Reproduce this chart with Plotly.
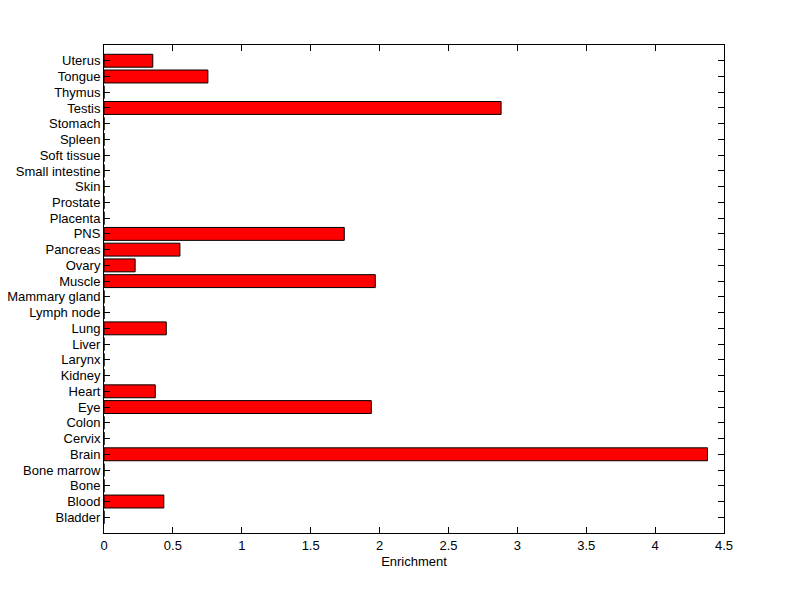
import plotly.graph_objects as go

categories = ["Bladder", "Blood", "Bone", "Bone marrow", "Brain", "Cervix", "Colon", "Eye",
              "Heart", "Kidney", "Larynx", "Liver", "Lung", "Lymph node", "Mammary gland",
              "Muscle", "Ovary", "Pancreas", "PNS", "Placenta", "Prostate", "Skin",
              "Small intestine", "Soft tissue", "Spleen", "Stomach", "Testis", "Thymus",
              "Tongue", "Uterus"]
enrichment = [0, 0.434, 0, 0, 4.38, 0, 0, 1.94,
              0.372, 0, 0, 0, 0.452, 0, 0,
              1.969, 0.226, 0.551, 1.744, 0, 0, 0,
              0, 0, 0, 0, 2.882, 0,
              0.754, 0.354]
x_ticks = [0, 0.5, 1, 1.5, 2, 2.5, 3, 3.5, 4, 4.5]
x_tick_labels = ["0", "0.5", "1", "1.5", "2", "2.5", "3", "3.5", "4", "4.5"]

idx = list(range(len(categories)))

fig = go.Figure(go.Bar(
    x=enrichment, y=idx, orientation="h", width=0.82,
    marker=dict(color="#ff0000", line=dict(color="black", width=1)),
))

fig.update_layout(
    width=800, height=599,
    margin=dict(l=96, r=84, t=37, b=74, autoexpand=False),
    paper_bgcolor="white", plot_bgcolor="white",
    font=dict(family="Liberation Sans, Arial, sans-serif", size=13, color="black"),
    showlegend=False,
)
fig.update_xaxes(
    range=[0, 4.5], tickvals=x_ticks, ticktext=x_tick_labels,
    ticks="inside", ticklen=6, tickcolor="black", tickwidth=1,
    showline=True, linecolor="black", linewidth=1, mirror="ticks",
    showgrid=False, zeroline=False,
    title=dict(text="Enrichment", standoff=5, font=dict(size=13)),
)
fig.update_yaxes(
    range=[-1, len(categories)], tickvals=idx, ticktext=categories,
    ticks="inside", ticklen=6, tickcolor="black", tickwidth=1,
    showline=True, linecolor="black", linewidth=1, mirror="ticks",
    showgrid=False, zeroline=False,
)

fig.write_html("out.html")
